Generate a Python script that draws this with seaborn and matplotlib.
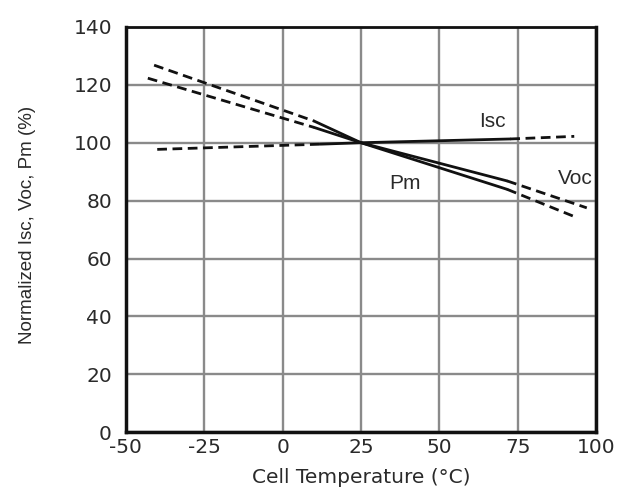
import matplotlib
matplotlib.use("Agg")
import matplotlib.pyplot as plt
import seaborn as sns
import pandas as pd

sns.set_theme(style="white")
plt.rcParams['font.family'] = ['DejaVu Sans']

# Data (solid middle segment between indices 1 and 3)
pm_x = [-41, 10, 25, 71.6, 93]
pm_y = [126.8, 107.5, 100, 83.9, 74.5]
voc_x = [-43, 10, 25, 71.6, 97]
voc_y = [122.3, 105.3, 100, 86.8, 77.5]
isc_x = [-40, 12, 25, 72.6, 93]
isc_y = [97.7, 99.5, 100, 101.3, 102.2]

x_ticks = [-50, -25, 0, 25, 50, 75, 100]
y_ticks = [0, 20, 40, 60, 80, 100, 120, 140]

fig = plt.figure(figsize=(6.39, 4.90), dpi=100)
ax = fig.add_axes([0.197, 0.118, 0.736, 0.827])

for name, xs, ys in [("Pm", pm_x, pm_y), ("Voc", voc_x, voc_y), ("Isc", isc_x, isc_y)]:
    df = pd.DataFrame({"x": xs, "y": ys})
    sns.lineplot(data=df.iloc[0:2], x="x", y="y", ax=ax, color="#111111",
                 linewidth=2.0, linestyle=(0, (3.5, 2)), sort=False)
    sns.lineplot(data=df.iloc[1:4], x="x", y="y", ax=ax, color="#111111",
                 linewidth=2.0, linestyle="-", sort=False)
    sns.lineplot(data=df.iloc[3:5], x="x", y="y", ax=ax, color="#111111",
                 linewidth=2.0, linestyle=(0, (3.5, 2)), sort=False)

ax.set_xlim(-50, 100)
ax.set_ylim(0, 140)
ax.set_xticks(x_ticks)
ax.set_yticks(y_ticks)
ax.set_xticklabels([str(t) for t in x_ticks], fontsize=14.5, color="#2a2a2a")
ax.set_yticklabels([str(t) for t in y_ticks], fontsize=14.5, color="#2a2a2a")
ax.tick_params(axis="y", length=0, pad=10)
ax.tick_params(axis="x", length=0, pad=4)
ax.grid(True, color="#8a8a8a", linewidth=1.7)
ax.set_axisbelow(True)
for side in ["left", "bottom", "right", "top"]:
    ax.spines[side].set_visible(True)
    ax.spines[side].set_color("#111111")
    ax.spines[side].set_linewidth(2.5)
ax.spines["top"].set_linewidth(2.0)

ax.set_xlabel("Cell Temperature (°C)", fontsize=14.5, color="#2a2a2a", va="center")
ax.set_ylabel("Normalized Isc, Voc, Pm (%)", fontsize=13.5, color="#2a2a2a",
              family=["Liberation Sans"], va="center")
ax.xaxis.set_label_coords(0.5, -0.111)
ax.yaxis.set_label_coords(-0.21, 0.512)

ax.text(66.8, 107.5, "Isc", fontsize=15, color="#2a2a2a", ha="center", va="center",
        family=["Liberation Sans"])
ax.text(39, 86, "Pm", fontsize=15, color="#2a2a2a", ha="center", va="center",
        family=["Liberation Sans"])
ax.text(93.3, 87.5, "Voc", fontsize=15, color="#2a2a2a", ha="center", va="center",
        family=["Liberation Sans"])

fig.savefig("out.png", dpi=100, facecolor="white")
